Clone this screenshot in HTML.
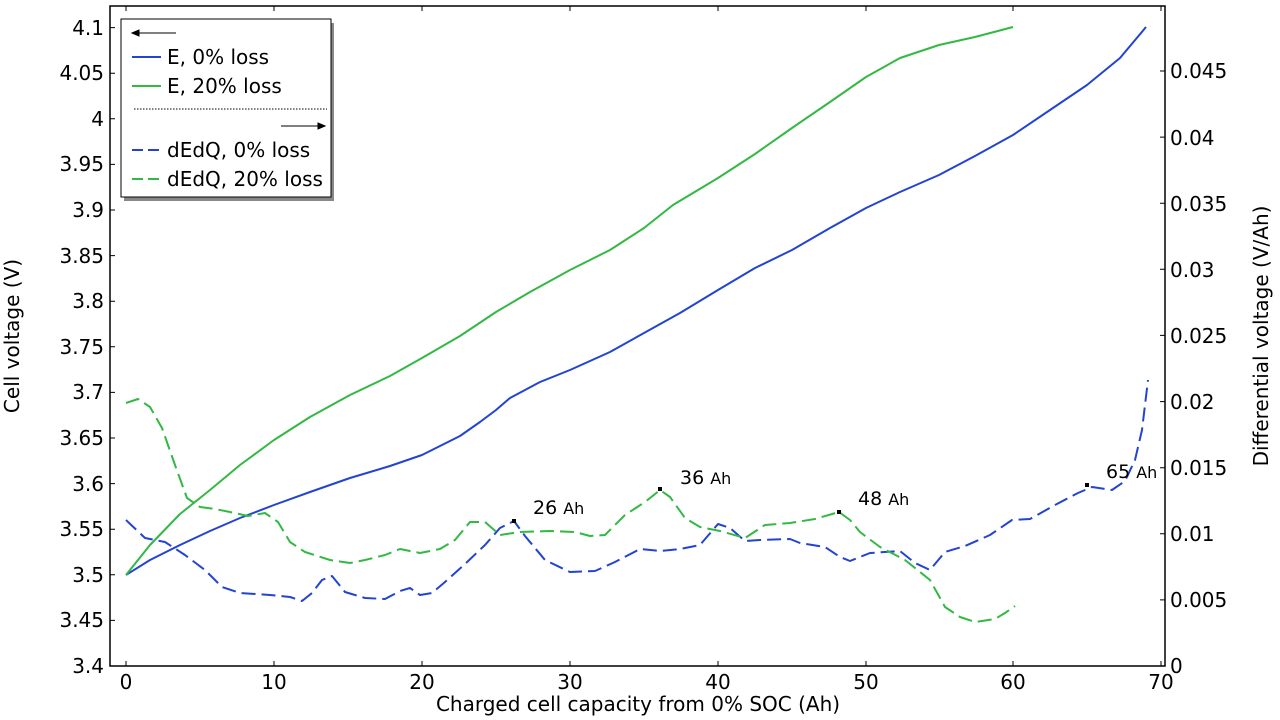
<!DOCTYPE html>
<html><head><meta charset="utf-8"><style>
body{margin:0;background:#fff}
svg{display:block;font-family:"DejaVu Sans","Liberation Sans",sans-serif}
</style></head><body>
<svg width="1280" height="720" viewBox="0 0 1280 720" xmlns="http://www.w3.org/2000/svg">
<rect width="1280" height="720" fill="#fff"/>
<g fill="none" stroke-width="2" stroke-linejoin="round">
<polyline stroke="#2244d0" points="126,575 150,560 180,545 210,531 240,518 274,505 310,492 350,478 390,466 422,455 460,436 480,422 496,410 510,398 540,382 570,370 610,352 644,333 680,313 718,290 755,268 792,250 830,228 866,208 900,192 939,175 975,156 1013,135 1050,110 1087,85 1120,58 1146,27"/>
<polyline stroke="#33b844" points="126,575 150,545 180,514 210,490 240,465 274,440 310,417 350,395 390,376 422,358 460,336 496,312 530,292 570,270 610,250 644,228 673,205 718,178 755,154 792,128 830,102 866,77 900,58 939,45 975,37 1013,27"/>
<g stroke-dasharray="14 6">
<polyline stroke="#2244d0" points="126,520 145,538 165,542 185,555 205,570 222,587 240,593 270,595 290,597 302,601 312,593 322,580 332,576 345,592 365,598 385,599 400,591 410,588 420,595 432,593 445,582 465,564 485,545 500,528 514,521 525,536 545,560 570,572 595,571 615,562 640,549 660,551 680,549 700,545 718,524 730,528 745,541 760,540 790,539 800,543 825,547 840,557 850,561 870,553 900,551 915,563 930,570 945,552 965,546 990,535 1012,520 1030,519 1055,505 1078,493 1092,487 1112,490 1125,481 1135,460 1142,430 1148,380"/>
<polyline stroke="#33b844" points="126,403 138,399 150,407 162,428 175,465 187,498 200,507 215,509 230,512 248,516 265,513 278,522 290,542 305,552 330,560 350,563 365,560 385,555 400,549 420,553 440,549 455,540 470,522 485,522 500,535 520,532 550,531 575,532 590,536 605,535 625,515 645,502 660,490 670,497 685,518 700,527 720,531 745,538 765,525 790,523 815,519 839,512 850,520 860,532 880,547 905,560 930,580 945,607 960,617 975,622 995,619 1005,613 1015,606"/>
</g>
</g>
<g fill="#000">
<rect x="512" y="519" width="4" height="4"/><rect x="658" y="487" width="4" height="4"/>
<rect x="837" y="510" width="4" height="4"/><rect x="1085" y="483" width="4" height="4"/>
</g>
<g font-size="19" fill="#000">
<text x="533" y="514">26 <tspan font-size="16">Ah</tspan></text>
<text x="680" y="484">36 <tspan font-size="16">Ah</tspan></text>
<text x="858" y="505">48 <tspan font-size="16">Ah</tspan></text>
<text x="1106" y="478">65 <tspan font-size="16">Ah</tspan></text>
</g>
<rect x="110" y="6" width="1055" height="660" fill="none" stroke="#000" stroke-width="1.5"/>
<g stroke="#000" stroke-width="1">
<path d="M126,666v-5M274,666v-5M422,666v-5M570,666v-5M718,666v-5M866,666v-5M1013,666v-5M1161,666v-5M126,6v5M274,6v5M422,6v5M570,6v5M718,6v5M866,6v5M1013,6v5M1161,6v5"/>
<path d="M110,27.6h5M110,73.2h5M110,118.8h5M110,164.4h5M110,210h5M110,255.6h5M110,301.2h5M110,346.8h5M110,392.4h5M110,438h5M110,483.6h5M110,529.2h5M110,574.8h5M110,620.4h5"/>
<path d="M1165,666h-5M1165,599.9h-5M1165,533.8h-5M1165,467.7h-5M1165,401.6h-5M1165,335.4h-5M1165,269.3h-5M1165,203.2h-5M1165,137.1h-5M1165,71h-5"/>
</g>
<g font-size="20" fill="#000" text-anchor="end">
<text x="104" y="35">4.1</text><text x="104" y="80">4.05</text><text x="104" y="126">4</text><text x="104" y="171">3.95</text><text x="104" y="217">3.9</text><text x="104" y="263">3.85</text><text x="104" y="308">3.8</text><text x="104" y="354">3.75</text><text x="104" y="399">3.7</text><text x="104" y="445">3.65</text><text x="104" y="491">3.6</text><text x="104" y="536">3.55</text><text x="104" y="582">3.5</text><text x="104" y="627">3.45</text><text x="104" y="673">3.4</text>
</g>
<g font-size="20" fill="#000">
<text x="1170" y="673">0</text><text x="1170" y="607">0.005</text><text x="1170" y="541">0.01</text><text x="1170" y="475">0.015</text><text x="1170" y="409">0.02</text><text x="1170" y="343">0.025</text><text x="1170" y="277">0.03</text><text x="1170" y="211">0.035</text><text x="1170" y="145">0.04</text><text x="1170" y="78">0.045</text>
</g>
<g font-size="20" fill="#000" text-anchor="middle">
<text x="126" y="689">0</text><text x="274" y="689">10</text><text x="422" y="689">20</text><text x="570" y="689">30</text><text x="718" y="689">40</text><text x="866" y="689">50</text><text x="1013" y="689">60</text><text x="1161" y="689">70</text>
<text x="638" y="711">Charged cell capacity from 0% SOC (Ah)</text>
<text transform="translate(19,336) rotate(-90)">Cell voltage (V)</text>
<text transform="translate(1268,336) rotate(-90)">Differential voltage (V/Ah)</text>
</g>
<rect x="124" y="23" width="210" height="178" fill="#888"/>
<rect x="121" y="19" width="210" height="178" fill="#fff" stroke="#000" stroke-width="1"/>
<g stroke="#000" stroke-width="1">
<path d="M136,33h40"/><path d="M132,33l7,-3v6z" fill="#000"/>
<path d="M134,109h193" stroke-dasharray="1.5 1.5"/>
<path d="M281,126h40"/><path d="M325,126l-7,-3v6z" fill="#000"/>
</g>
<g stroke-width="2">
<path d="M132,57h29" stroke="#2244d0"/><path d="M132,86h29" stroke="#33b844"/>
<path d="M132,150h29" stroke="#2244d0" stroke-dasharray="11 5"/><path d="M132,179h29" stroke="#33b844" stroke-dasharray="11 5"/>
</g>
<g font-size="20" fill="#000">
<text x="167" y="64">E, 0% loss</text><text x="167" y="93">E, 20% loss</text>
<text x="167" y="157">dEdQ, 0% loss</text><text x="167" y="186">dEdQ, 20% loss</text>
</g>
</svg>
</body></html>
